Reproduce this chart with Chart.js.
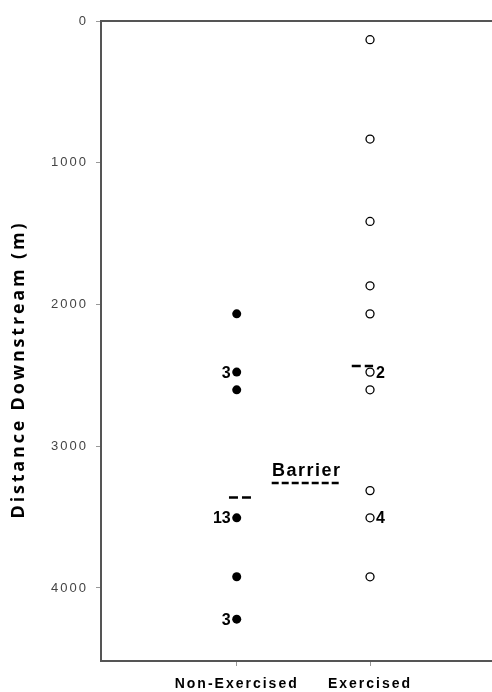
<!DOCTYPE html>
<html><head><meta charset="utf-8">
<script src="https://cdn.jsdelivr.net/npm/chart.js@4/dist/chart.umd.min.js"></script>
<style>html,body{margin:0;padding:0;background:#fff}#wrap{width:492px;height:692px}</style>
</head><body><div id="wrap"><canvas id="c" width="492" height="692"></canvas></div>
<script>
const categories = ['Non-Exercised', 'Exercised'];
const nonExercisedDistance = [2066, 2477, 2602, 3505, 3921, 4220];
const nonExercisedCounts = ['', '3', '', '13', '', '3'];
const exercisedDistance = [132, 833, 1414, 1868, 2066, 2477, 2602, 3313, 3505, 3921];
const exercisedCounts = ['', '', '', '', '', '2', '', '', '4', ''];
const meanDistance = [3362, 2433];
const yTicks = [0, 1000, 2000, 3000, 4000];
const barrierLabel = 'Barrier';
const barrierDistance = 3178;
const yTitle = 'Distance Downstream (m)';

const FONT = '"Liberation Sans", Arial, sans-serif';

const annot = {
  id: 'annot',
  beforeDraw(chart) { chart.ctx.letterSpacing = '2px'; },
  afterDraw(chart) {
    const {ctx, chartArea: a, scales: {x, y}} = chart;
    ctx.save();
    ctx.letterSpacing = '0px';
    // top frame line
    ctx.strokeStyle = '#555'; ctx.lineWidth = 2;
    ctx.beginPath(); ctx.moveTo(a.left, a.top); ctx.lineTo(a.right, a.top); ctx.stroke();
    // counts
    ctx.fillStyle = '#000'; ctx.textBaseline = 'middle';
    ctx.font = 'bold 16px ' + FONT;
    ctx.textAlign = 'right';
    nonExercisedCounts.forEach((t, i) => {
      if (t) ctx.fillText(t, x.getPixelForValue(1) - 6, y.getPixelForValue(nonExercisedDistance[i]) + 1);
    });
    ctx.textAlign = 'left';
    exercisedCounts.forEach((t, i) => {
      if (t) ctx.fillText(t, x.getPixelForValue(2) + 6, y.getPixelForValue(exercisedDistance[i]) + 1);
    });
    // barrier
    ctx.font = 'bold 18px ' + FONT;
    ctx.letterSpacing = '1.5px';
    ctx.textAlign = 'center';
    const bx = x.getPixelForValue(1.525), by = y.getPixelForValue(barrierDistance);
    ctx.fillText(barrierLabel, bx, by);
    const w = 70;
    ctx.setLineDash([7, 3]); ctx.lineWidth = 2.5; ctx.strokeStyle = '#000';
    ctx.beginPath(); ctx.moveTo(bx - w / 2, by + 11.5); ctx.lineTo(bx + w / 2, by + 11.5); ctx.stroke();
    ctx.setLineDash([]);
    // y title
    ctx.font = 'bold 18px "Open Sans", sans-serif';
    ctx.letterSpacing = '0px';
    const tw = ctx.measureText(yTitle).width;
    const sp = Math.max(0, (295 - tw) / (yTitle.length - 1));
    ctx.letterSpacing = sp + 'px';
    ctx.translate(19, 371);
    ctx.rotate(-Math.PI / 2);
    ctx.textAlign = 'left';
    ctx.fillText(yTitle, -147.5, 0);
    ctx.restore();
  }
};

const meanLine = (cx, x0, x1, m) => ({
  type: 'line', showLine: true, data: [{x: cx + x0, y: m}, {x: cx + x1, y: m}],
  borderColor: '#000', borderWidth: 2.5, borderDash: [9, 4], pointRadius: 0, fill: false
});

new Chart(document.getElementById('c'), {
  type: 'scatter',
  data: {
    datasets: [
      { label: categories[0], data: nonExercisedDistance.map(v => ({x: 1, y: v})),
        pointRadius: 4.5, backgroundColor: '#000', borderColor: '#000', borderWidth: 0 },
      { label: categories[1], data: exercisedDistance.map(v => ({x: 2, y: v})),
        pointRadius: 4, backgroundColor: '#fff', borderColor: '#000', borderWidth: 1.3 },
      meanLine(1, -0.058, 0.107, meanDistance[0]),
      meanLine(2, -0.137, 0.023, meanDistance[1])
    ]
  },
  options: {
    responsive: false, animation: false, devicePixelRatio: 1,
    layout: { autoPadding: false, padding: { top: 21, right: 0, left: 0, bottom: 0 } },
    plugins: { legend: { display: false }, tooltip: { enabled: false } },
    scales: {
      x: {
        type: 'linear', min: -0.018, max: 2.915,
        afterBuildTicks: s => { s.ticks = categories.map((c, i) => ({value: i + 1})); },
        afterFit: s => { s.height = 31; s.paddingLeft = 0; s.paddingRight = 0; },
        ticks: { callback: v => categories[Math.round(v) - 1], autoSkip: false, maxRotation: 0,
          font: { family: FONT, size: 14, weight: 'bold' }, color: '#000', padding: 10 },
        grid: { drawOnChartArea: false, drawTicks: true, tickLength: 5, color: '#999' },
        border: { color: '#555', width: 2 }
      },
      y: {
        type: 'linear', reverse: true, min: 0, max: 4515,
        afterBuildTicks: s => { s.ticks = yTicks.map(v => ({value: v})); },
        afterFit: s => { s.width = 101; s.paddingTop = 0; s.paddingBottom = 0; },
        ticks: { callback: v => String(v), font: { family: FONT, size: 13 }, color: '#444', padding: 8 },
        grid: { drawOnChartArea: false, drawTicks: true, tickLength: 5, color: '#999' },
        border: { color: '#555', width: 2 }
      }
    }
  },
  plugins: [annot]
});
</script></body></html>
